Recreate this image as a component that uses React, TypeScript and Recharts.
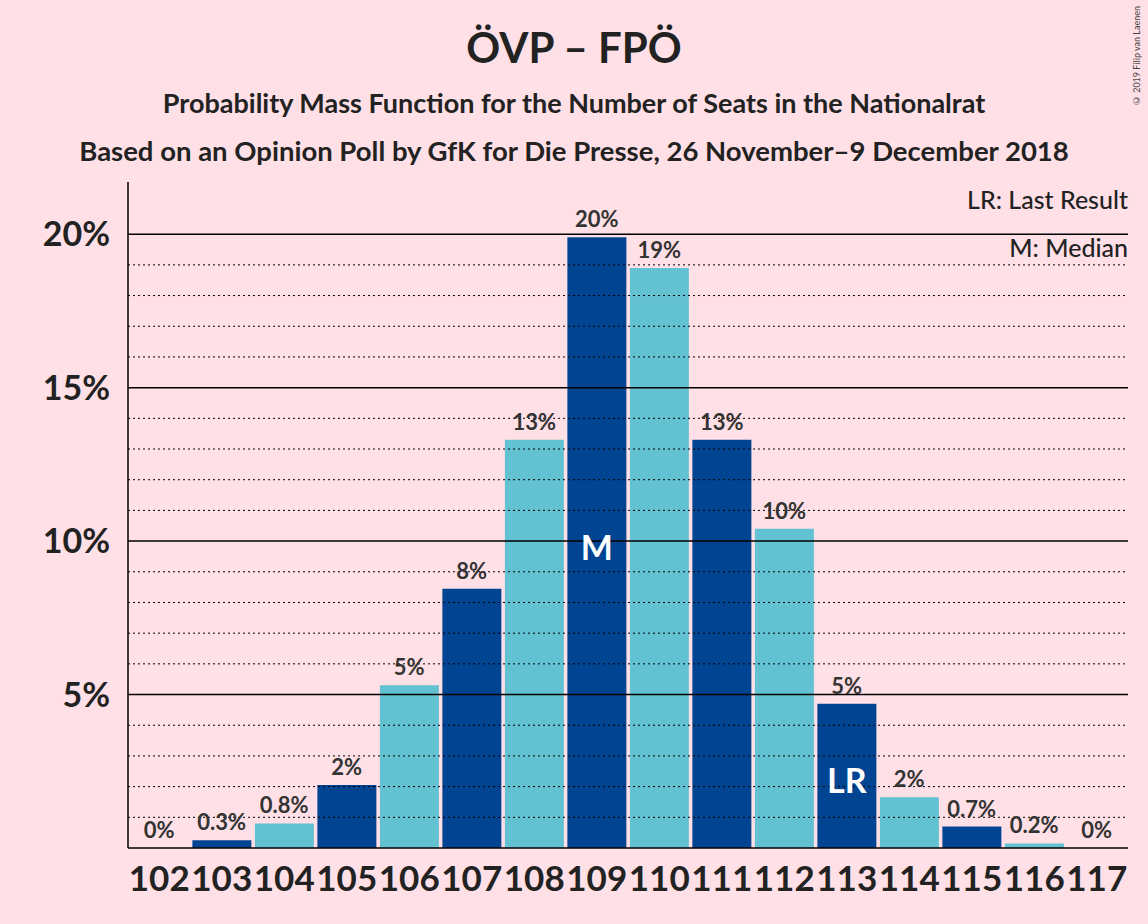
import React from "react";
import { ComposedChart, Bar, Line, XAxis, YAxis, ReferenceLine, LabelList, Cell } from "recharts";

const seats = ["102", "103", "104", "105", "106", "107", "108", "109", "110", "111", "112", "113", "114", "115", "116", "117"];
const probs = [0, 0.25, 0.8, 2.05, 5.3, 8.45, 13.3, 19.9, 18.9, 13.3, 10.4, 4.7, 1.65, 0.7, 0.15, 0];
const labels = ["0%", "0.3%", "0.8%", "2%", "5%", "8%", "13%", "20%", "19%", "13%", "10%", "5%", "2%", "0.7%", "0.2%", "0%"];
const marks = ["", "", "", "", "", "", "", "M", "", "", "", "LR", "", "", "", ""];
const gridLines = [1, 2, 3, 4, 5, 6, 7, 8, 9, 10, 11, 12, 13, 14, 15, 16, 17, 18, 19, 20];
const yTicks = [5, 10, 15, 20];

const DARK = "#004492";
const LIGHT = "#63C2D1";
const BG = "#FFE0E6";
const FONT = "Lato, 'DejaVu Sans', sans-serif";

const data = seats.map((s, i) => ({ seat: s, p: probs[i], label: labels[i], mark: marks[i] }));

const TopLabel = (props: any) => {
  const { x, y, value } = props;
  return (
    <text x={x} y={y - 10} textAnchor="middle" fontSize={22} fontWeight={700} fill="#333" fontFamily={FONT}>
      {value}
    </text>
  );
};

const MarkLabel = (props: any) => {
  const { x, width, value } = props;
  if (!value) return null;
  const cy = value === "M" ? 546 : 779;
  return (
    <text x={x + width / 2} y={cy} textAnchor="middle" dominantBaseline="central" fontSize={34} fontWeight={700} fill="#fff" fontFamily={FONT}>
      {value}
    </text>
  );
};

export default function App() {
  return (
    <div style={{ position: "absolute", left: 0, top: 0, width: 1148, height: 924, background: BG, fontFamily: FONT }}>
      <div style={{ position: "absolute", top: 22, width: 1148, textAlign: "center", fontSize: 42, fontWeight: 700, color: "#222" }}>ÖVP – FPÖ</div>
      <div style={{ position: "absolute", top: 86, width: 1148, textAlign: "center", fontSize: 27, fontWeight: 700, color: "#222" }}>
        Probability Mass Function for the Number of Seats in the Nationalrat
      </div>
      <div style={{ position: "absolute", top: 134, width: 1148, textAlign: "center", fontSize: 27.5, fontWeight: 700, color: "#222" }}>
        Based on an Opinion Poll by GfK for Die Presse, 26 November–9 December 2018
      </div>
      <div style={{ position: "absolute", top: 184, right: 20, fontSize: 25, fontWeight: 500, color: "#222" }}>LR: Last Result</div>
      <div style={{ position: "absolute", top: 232, right: 20, fontSize: 25, fontWeight: 500, color: "#222" }}>M: Median</div>
      <div style={{ position: "absolute", top: 6, right: 6, fontSize: 9, color: "#444", writingMode: "vertical-rl", transform: "rotate(180deg)" }}>
        © 2019 Filip van Laenen
      </div>
      <ComposedChart width={1148} height={924} data={data} margin={{ top: 182, right: 20, left: 8, bottom: 46 }} barCategoryGap="3%">
        {gridLines.map((g) => (
          <ReferenceLine key={g} y={g} stroke="#000" strokeWidth={g % 5 === 0 ? 1.5 : 1} strokeDasharray={g % 5 === 0 ? undefined : "2 3"} />
        ))}
        <XAxis
          dataKey="seat"
          tickLine={false}
          axisLine={{ stroke: "#000", strokeWidth: 1.5 }}
          interval={0}
          tick={{ fontSize: 35, fontWeight: 700, fill: "#222", fontFamily: FONT }}
          tickMargin={12}
        />
        <YAxis
          width={120}
          domain={[0, 21.7]}
          ticks={yTicks}
          tickFormatter={(v) => `${v}%`}
          tickLine={false}
          axisLine={{ stroke: "#000", strokeWidth: 1.5 }}
          tick={{ fontSize: 34, fontWeight: 700, fill: "#222", fontFamily: FONT }}
          tickMargin={12}
        />
        <Bar dataKey="p" isAnimationActive={false}>
          {data.map((d, i) => (
            <Cell key={d.seat} fill={i % 2 === 1 ? DARK : LIGHT} />
          ))}
          <LabelList dataKey="mark" content={MarkLabel} />
        </Bar>
        <Line dataKey="p" stroke="none" dot={false} activeDot={false} isAnimationActive={false}>
          <LabelList dataKey="label" content={TopLabel} />
        </Line>
      </ComposedChart>
    </div>
  );
}
